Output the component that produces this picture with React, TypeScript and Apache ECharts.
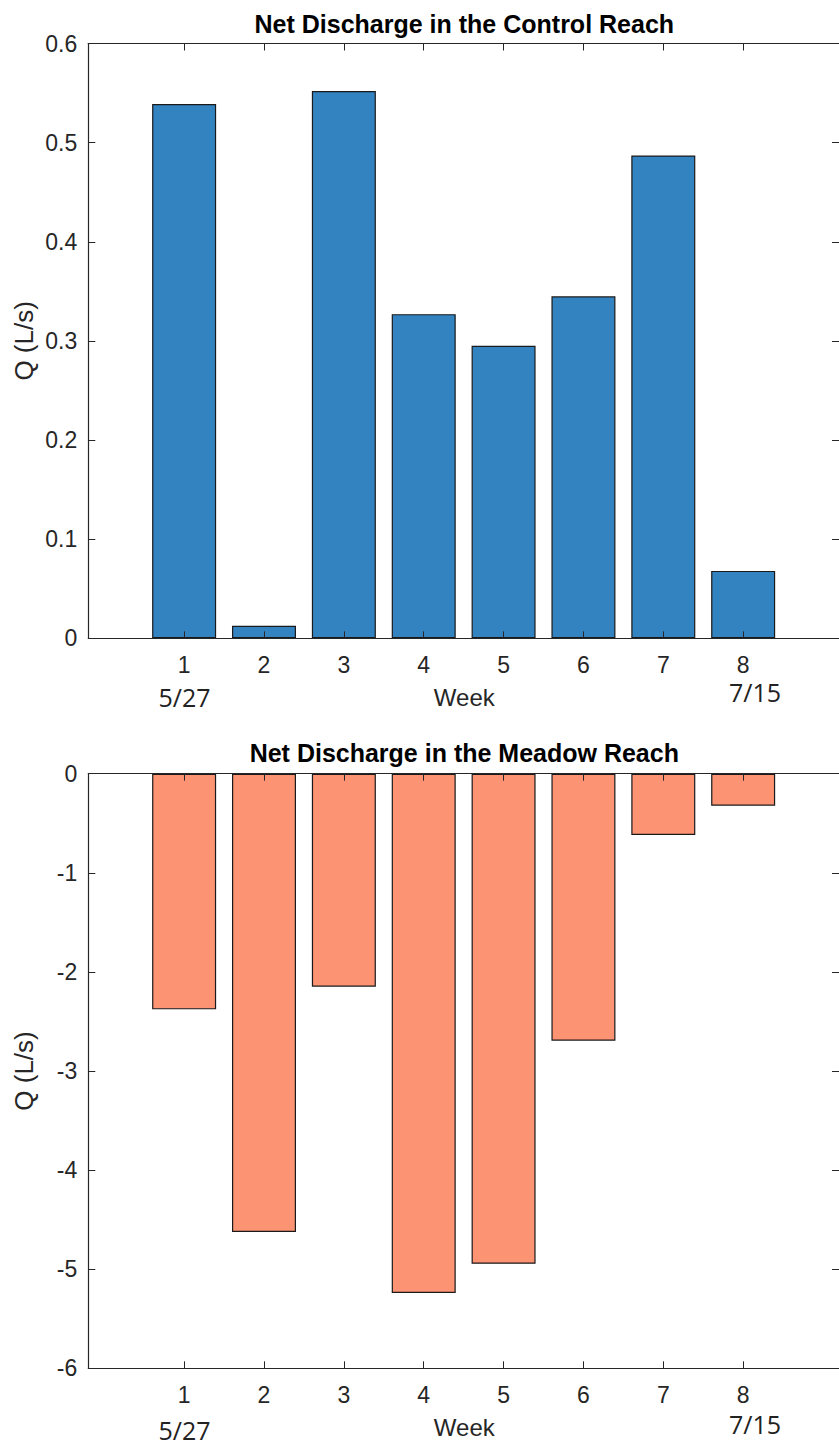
import React, { useEffect, useRef } from "react";
import * as echarts from "echarts";

// Weekly net discharge, Q (L/s)
const weeks = [1, 2, 3, 4, 5, 6, 7, 8];
const controlQ = [0.539, 0.0127, 0.552, 0.327, 0.295, 0.345, 0.487, 0.068];
const meadowQ = [-2.378, -4.625, -2.149, -5.24, -4.945, -2.694, -0.619, -0.323];
const controlTicks = [0, 0.1, 0.2, 0.3, 0.4, 0.5, 0.6];
const meadowTicks = [-6, -5, -4, -3, -2, -1, 0];
const startDate = "5/27";
const endDate = "7/15";

const W = 839;
const H = 1446;
const AX = "#262626";
const SANS = "'Liberation Sans', Arial, Helvetica, sans-serif";
const DATEFONT = "'Open Sans', 'Noto Sans', sans-serif";

// plot boxes
const boxLeft = 88.3;
const boxWidth = 752;
const xMin = -0.2;
const xMax = 9.2;
const boxes = [
  { top: 43.5, height: 594.8 },
  { top: 773.7, height: 594.6 },
];
const barPx = (boxWidth / (xMax - xMin)) * 0.8;

export default function App() {
  const ref = useRef<HTMLDivElement>(null);

  useEffect(() => {
    if (!ref.current) return;
    const chart = echarts.init(ref.current, undefined, { renderer: "svg" });

    const grid = boxes.map((b) => ({
      left: boxLeft,
      top: b.top,
      width: boxWidth,
      height: b.height,
      containLabel: false,
    }));

    const xAxisFor = (gi: number, position: "bottom" | "top", labels: boolean) => ({
      type: "value" as const,
      gridIndex: gi,
      position,
      min: xMin,
      max: xMax,
      z: 6,
      axisLine: { show: true, onZero: false, lineStyle: { color: AX, width: 1.2 } },
      axisTick: {
        show: true,
        inside: true,
        length: 7,
        customValues: weeks,
        lineStyle: { color: AX, width: 1 },
      },
      axisLabel: {
        show: labels,
        customValues: weeks,
        margin: 15,
        color: AX,
        fontFamily: SANS,
        fontSize: 23,
      },
      splitLine: { show: false },
    });

    const yAxisFor = (
      gi: number,
      position: "left" | "right",
      labels: boolean,
      min: number,
      max: number,
      interval: number,
      decimals: number
    ) => ({
      type: "value" as const,
      gridIndex: gi,
      position,
      min,
      max,
      interval,
      z: 6,
      axisLine: {
        show: position === "left",
        onZero: false,
        lineStyle: { color: AX, width: 1.2 },
      },
      axisTick: { show: true, inside: true, length: 7, lineStyle: { color: AX, width: 1 } },
      axisLabel: {
        show: labels,
        margin: 11,
        color: AX,
        fontFamily: SANS,
        fontSize: 23,
        formatter: (v: number) =>
          Math.abs(v) < 1e-9 ? "0" : decimals ? v.toFixed(decimals) : String(Math.round(v)),
      },
      splitLine: { show: false },
    });

    const mid = boxLeft + boxWidth / 2;
    const centerY = (i: number) => boxes[i].top + boxes[i].height / 2;
    const bottomY = (i: number) => boxes[i].top + boxes[i].height;

    const texts: any[] = [];
    const titles = ["Net Discharge in the Control Reach", "Net Discharge in the Meadow Reach"];
    const titleY = [24, 753];
    const dateOffsets = [
      { start: 59, end: 54 },
      { start: 62, end: 56 },
    ];
    [0, 1].forEach((i) => {
      texts.push({
        type: "text",
        x: mid,
        y: titleY[i],
        style: {
          text: titles[i],
          align: "center",
          verticalAlign: "middle",
          font: `bold 25px ${SANS}`,
          fill: "#000",
        },
      });
      texts.push({
        type: "text",
        x: 24,
        y: centerY(i),
        rotation: Math.PI / 2,
        style: {
          text: "Q (L/s)",
          align: "center",
          verticalAlign: "middle",
          font: `26px ${SANS}`,
          fill: AX,
        },
      });
      texts.push({
        type: "text",
        x: mid,
        y: bottomY(i) + 59,
        style: {
          text: "Week",
          align: "center",
          verticalAlign: "middle",
          font: `24px ${SANS}`,
          fill: AX,
        },
      });
      texts.push({
        type: "text",
        x: 184.5,
        y: bottomY(i) + dateOffsets[i].start,
        style: {
          text: startDate,
          align: "center",
          verticalAlign: "middle",
          font: `25px ${DATEFONT}`,
          fill: "#222",
        },
      });
      texts.push({
        type: "text",
        x: 755,
        y: bottomY(i) + dateOffsets[i].end,
        style: {
          text: endDate,
          align: "center",
          verticalAlign: "middle",
          font: `25px ${DATEFONT}`,
          fill: "#222",
        },
      });
    });

    const barSeries = (xi: number, yi: number, values: number[], color: string) => ({
      type: "bar" as const,
      xAxisIndex: xi,
      yAxisIndex: yi,
      barWidth: barPx,
      z: 2,
      data: weeks.map((w, k) => [w, values[k]]),
      itemStyle: { color, borderColor: "#1a1a1a", borderWidth: 1.2 },
    });

    chart.setOption({
      animation: false,
      backgroundColor: "#fff",
      grid,
      xAxis: [
        xAxisFor(0, "bottom", true),
        xAxisFor(0, "top", false),
        xAxisFor(1, "bottom", true),
        xAxisFor(1, "top", false),
      ],
      yAxis: [
        yAxisFor(0, "left", true, controlTicks[0], controlTicks[controlTicks.length - 1], 0.1, 1),
        yAxisFor(0, "right", false, controlTicks[0], controlTicks[controlTicks.length - 1], 0.1, 1),
        yAxisFor(1, "left", true, meadowTicks[0], meadowTicks[meadowTicks.length - 1], 1, 0),
        yAxisFor(1, "right", false, meadowTicks[0], meadowTicks[meadowTicks.length - 1], 1, 0),
      ],
      series: [
        barSeries(0, 0, controlQ, "#3283c0"),
        barSeries(2, 2, meadowQ, "#fc9373"),
      ],
      graphic: texts,
    });

    return () => chart.dispose();
  }, []);

  return (
    <div
      ref={ref}
      style={{ position: "absolute", left: 0, top: 0, width: W, height: H, background: "#fff" }}
    />
  );
}
